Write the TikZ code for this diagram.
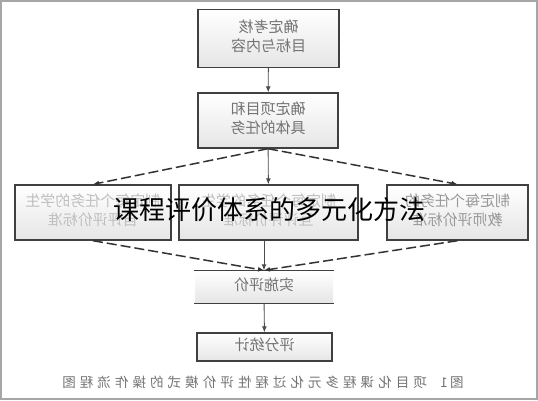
\documentclass[tikz,border=0pt]{standalone}
\usepackage{fontspec}
\usepackage{graphicx}
\usetikzlibrary{arrows.meta,arrows}
\newfontfamily\cjk{Noto Sans CJK SC}
\newfontfamily\capfont[LetterSpace=30]{Noto Sans CJK SC}
\newcommand{\mir}[1]{\reflectbox{\begin{tabular}{@{}c@{}}#1\end{tabular}}}

\begin{document}
\begin{tikzpicture}[x=1pt,y=-1pt,
    stepbox/.style={draw=black!75,line width=1.4pt,top color=white,bottom color=black!10,
      inner sep=0pt,font=\cjk\fontsize{15}{19}\selectfont},
    flowline/.style={black!70,line width=0.9pt,-{Latex[length=6pt,width=5pt]}},
    dashline/.style={flowline,black!80,line width=1.5pt,dash pattern=on 10pt off 4pt}]
        \useasboundingbox (0,0) rectangle (538,400);
        \draw[black!35,line width=1.5pt] (1,1) rectangle (537,399);
        % Boxes
        \node[stepbox,minimum width=141pt,minimum height=58pt,text=black!55] (goal) at (268.5,38.5) {\mir{确定考核\\目标与内容}};
        \node[stepbox,minimum width=140pt,minimum height=55pt,text=black!55] (task) at (268,120.5) {\mir{确定项目和\\具体的任务}};
        \node[stepbox,minimum width=156pt,minimum height=55pt,text=black!25] (self) at (93,212.5) {\mir{制定每个任务的学生\\自评评价标准}};
        \node[stepbox,minimum width=179pt,minimum height=55pt,text=black!25] (peer) at (268.5,212.5) {\mir{制定每个任务的学生\\互评评价标准}};
        \node[stepbox,minimum width=141pt,minimum height=55pt,text=black!40] (teacher) at (457.5,212.5) {\mir{制定每个任务的\\教师评价标准}};
        \node[stepbox,draw=none,minimum width=138pt,minimum height=32pt,text=black!55] (apply) at (264,287) {\mir{实施评价}};
        \draw[black!75,line width=1.4pt] (apply.north west) -- (apply.north east);
        \draw[black!75,line width=1.4pt] (apply.south west) -- (apply.south east);
        \node[stepbox,minimum width=135pt,minimum height=28pt,text=black!55] (score) at (264.5,347) {\mir{评分统计}};
        %
        % Edges:
        \draw[flowline] (goal) -- (task);
        \draw[dashline] (task.south) -- (self.north);
        \draw[dashline] (task.south) -- (teacher.north);
        \draw[flowline] (task) -- (peer);
        \draw[dashline] (self.south) -- (apply.north);
        \draw[dashline] (teacher.south) -- (apply.north);
        \draw[flowline] (peer.south -| apply.north) -- (apply.north);
        \draw[flowline] (apply) -- (score);
        % Caption and overlay
        \node[text=black!55,font=\capfont\fontsize{13.5}{13.5}\selectfont] (caption) at (263,382) {\reflectbox{图\,1\quad 项目化课程多元化过程性评价模式的操作流程图}};
        \node[font=\cjk\fontsize{26}{26}\selectfont] (title) at (269,210) {课程评价体系的多元化方法};
\end{tikzpicture}
\end{document}
